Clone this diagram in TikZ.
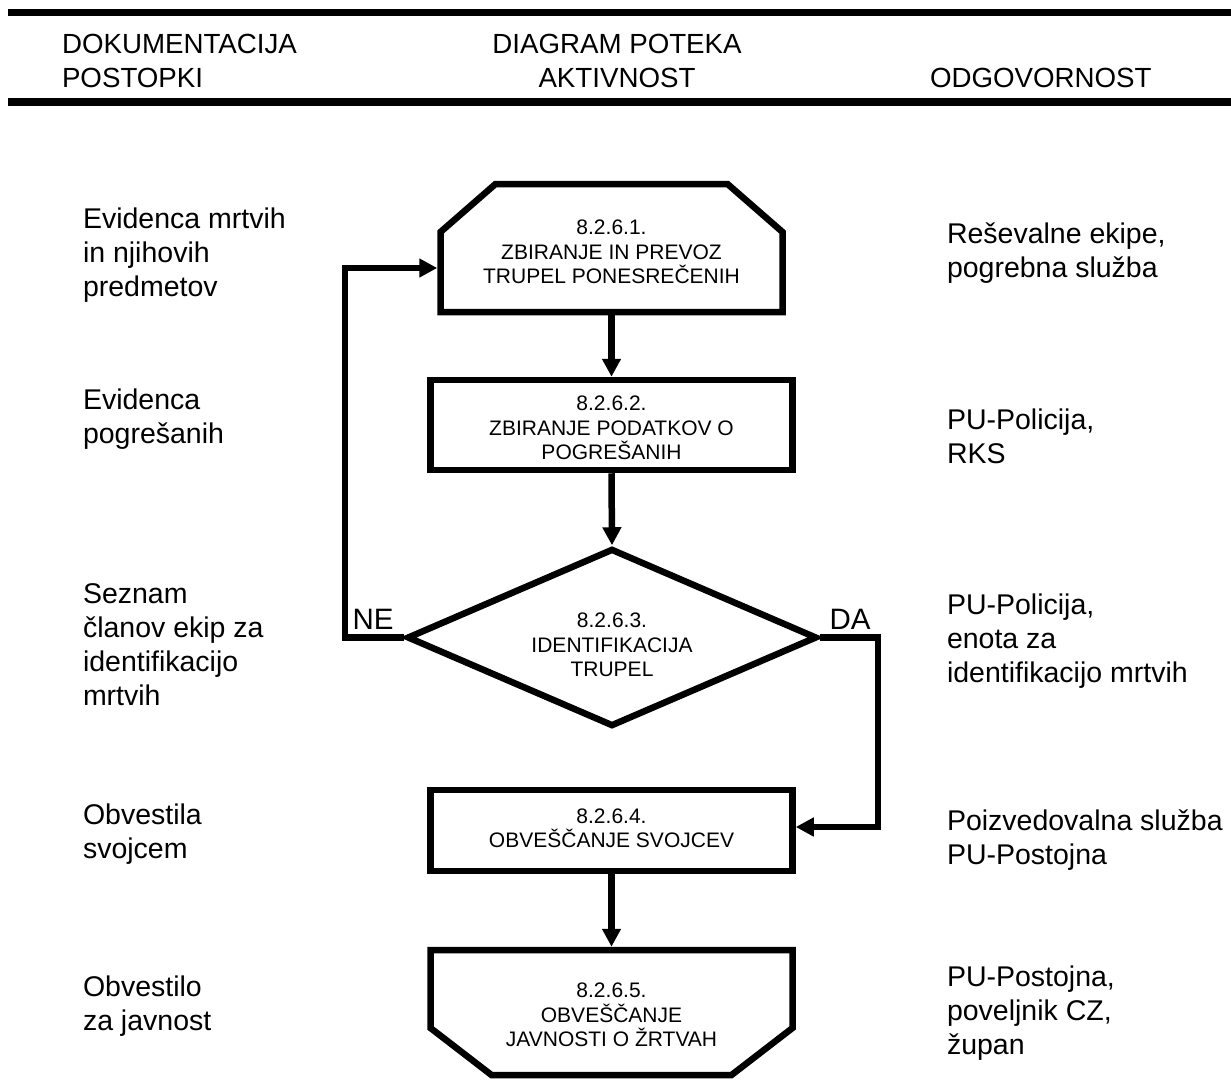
\documentclass[tikz,border=0pt]{standalone}
\usepackage{fontspec}
\setmainfont{Liberation Sans}
\usetikzlibrary{arrows.meta,shapes.geometric}
\newcommand\lstrut{\rule{0pt}{22pt}}
\newcommand\tstrut[1]{\rule{0pt}{#1pt}}
\newcommand\dstrut[1]{\rule[-#1pt]{0pt}{#1pt}}
\begin{document}
\begin{tikzpicture}[x=1pt,y=-1pt,
  lbl/.style={anchor=north west,align=left,inner sep=0pt,outer sep=0pt,font=\fontsize{28.5}{34}\selectfont},
  hdr/.style={anchor=north west,align=left,inner sep=0pt,outer sep=0pt,font=\fontsize{27.7}{34}\selectfont},
  boxtext/.style={align=center,inner sep=0pt,font=\fontsize{21}{24.5}\selectfont},
  procbox/.style={boxtext,draw,line width=6.5pt,rectangle},
  shapebox/.style={boxtext,draw=none,outer sep=0pt,rectangle},
  decbox/.style={boxtext,draw,line width=6.5pt,diamond,aspect=2.3},
  outline/.style={line width=6.5pt,line join=miter},
  arr/.style={line width=6.5pt,-{Triangle[length=18pt,width=18pt]}},
  yesno/.style={anchor=base,inner sep=0pt,font=\fontsize{29.5}{34}\selectfont},
  rule/.style={line width=#1}
]
\useasboundingbox (0,0) rectangle (1231,1081);

% header rules
\coordinate (r1a) at (8,13);
\coordinate (r1b) at (1231,13);
\coordinate (r2a) at (8,102);
\coordinate (r2b) at (1231,102);
\draw[rule=7pt] (r1a) -- (r1b);
\draw[rule=8pt] (r2a) -- (r2b);

% header texts
\node[hdr] (h1) at (62,32) {\lstrut DOKUMENTACIJA\\POSTOPKI};
\node[hdr,anchor=north,align=center] (h2) at (617,32) {\lstrut DIAGRAM POTEKA\\AKTIVNOST};
\node[hdr] (h3) at (930,66) {\lstrut ODGOVORNOST};

% process boxes
\node[shapebox,minimum width=342pt,minimum height=128pt] (b1) at (611.5,248)
  {\tstrut{23}8.2.6.1.\\ZBIRANJE IN PREVOZ\\TRUPEL PONESREČENIH};
\draw[outline] ([xshift=55pt]b1.north west) -- ([xshift=-55pt]b1.north east)
  -- ([yshift=-48pt]b1.north east) -- (b1.south east) -- (b1.south west)
  -- ([yshift=-48pt]b1.north west) -- cycle;

\node[procbox,minimum width=362pt,minimum height=90pt] (b2) at (611.5,425)
  {\tstrut{21}8.2.6.2.\\ZBIRANJE PODATKOV O\\POGREŠANIH};

\node[decbox,minimum width=410pt,minimum height=178pt] (d) at (612,637.5)
  {\tstrut{30}8.2.6.3.\\IDENTIFIKACIJA\\TRUPEL};

\node[procbox,minimum width=362pt,minimum height=81pt] (b4) at (611.5,830.5)
  {8.2.6.4.\\OBVEŠČANJE SVOJCEV\dstrut{5}};

\node[shapebox,minimum width=362pt,minimum height=125pt] (b5) at (611.5,1012.5)
  {\tstrut{20}8.2.6.5.\\OBVEŠČANJE\\JAVNOSTI O ŽRTVAH};
\draw[outline] (b5.north west) -- (b5.north east)
  -- ([yshift=47pt]b5.south east) -- ([xshift=-61pt]b5.south east)
  -- ([xshift=61pt]b5.south west) -- ([yshift=47pt]b5.south west) -- cycle;

% connectors
\coordinate (nec) at (345,268);
\coordinate (dac) at (878,827);
\draw[arr] (b1.south) -- (b2.north);
\draw[arr] (b2.south) -- (d.north);
\draw[arr] (d.west) -| (nec) -- ([xshift=-3.25pt,yshift=-20pt]b1.west);
\draw[arr] (d.east) -| (dac) -- ([yshift=3.5pt]b4.east);
\draw[arr] (b4.south) -- ([yshift=3.25pt]b5.north);

\node[yesno] (ne) at (373,629) {NE};
\node[yesno] (da) at (850,629) {DA};

% left column
\node[lbl] (l1) at (83,206) {\lstrut Evidenca mrtvih\\in njihovih\\predmetov};
\node[lbl] (l2) at (83,387) {\lstrut Evidenca\\pogrešanih};
\node[lbl] (l3) at (83,581) {\lstrut Seznam\\članov ekip za\\identifikacijo\\mrtvih};
\node[lbl] (l4) at (83,802) {\lstrut Obvestila\\svojcem};
\node[lbl] (l5) at (83,974) {\lstrut Obvestilo\\za javnost};

% right column
\node[lbl] (r1) at (947,221) {\lstrut Reševalne ekipe,\\pogrebna služba};
\node[lbl] (r2) at (947,407) {\lstrut PU-Policija,\\RKS};
\node[lbl] (r3) at (947,592) {\lstrut PU-Policija,\\enota za\\identifikacijo mrtvih};
\node[lbl] (r4) at (947,808) {\lstrut Poizvedovalna služba\\PU-Postojna};
\node[lbl] (r5) at (947,964) {\lstrut PU-Postojna,\\poveljnik CZ,\\župan};
\end{tikzpicture}
\end{document}
